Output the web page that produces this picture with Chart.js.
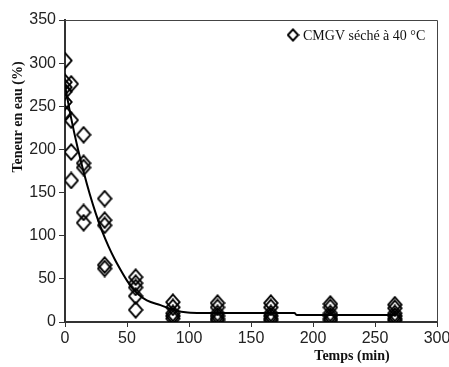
<!DOCTYPE html>
<html>
<head>
<meta charset="utf-8">
<script src="https://cdn.jsdelivr.net/npm/chart.js@4/dist/chart.umd.min.js"></script>
<style>
  html, body { margin: 0; padding: 0; background: #fff; }
  #c { display: block; }
</style>
</head>
<body>
<canvas id="c" width="449" height="367"></canvas>
<script>
// Measured moisture content during drying (time in min, moisture in %)
const sampleTimes = [
  0, 0, 0, 0, 0, 0,
  5, 5, 5, 5,
  15, 15, 15, 15, 15,
  32, 32, 32, 32, 32,
  57, 57, 57, 57, 57,
  87, 87, 87, 87, 87,
  123, 123, 123, 123, 123, 123,
  166, 166, 166, 166, 166, 166,
  214, 214, 214, 214, 214, 214,
  266, 266, 266, 266, 266, 266
];
const waterContent = [
  303, 278, 272, 267, 255, 242,
  276, 234, 197, 164,
  217, 184, 179, 127, 115,
  143, 118, 112, 66, 62,
  52, 45, 40, 30, 14,
  23, 17, 10, 7, 4,
  22, 17, 10, 7, 4, 2,
  22, 17, 10, 7, 4, 2,
  21, 17, 10, 7, 4, 2,
  20, 16, 10, 7, 4, 2
];

// Fitted drying curve, read as a polyline
const fitTimes  = [0, 5, 10, 15, 20, 25, 30, 35, 40, 45, 50, 55, 60, 66, 77, 88, 99, 110, 185, 187, 267];
const fitValues = [274, 236, 203, 174, 148, 125, 105, 88, 73, 60, 48, 38, 31, 25, 19.5, 14, 11, 10.5, 10.5, 8, 8];

const xTicks = [0, 50, 100, 150, 200, 250, 300];
const yTicks = [0, 50, 100, 150, 200, 250, 300, 350];

const seriesLabel = 'CMGV séché à 40 °C';
const xTitle = 'Temps (min)';
const yTitle = 'Teneur en eau (%)';

// Hollow diamond marker
function makeDiamond(w, h, lw) {
  const cv = document.createElement('canvas');
  cv.width = w; cv.height = h;
  const g = cv.getContext('2d');
  g.strokeStyle = '#000';
  g.lineWidth = lw;
  g.lineJoin = 'miter';
  g.beginPath();
  g.moveTo(w / 2, lw * 0.7);
  g.lineTo(w - lw * 0.7, h / 2);
  g.lineTo(w / 2, h - lw * 0.7);
  g.lineTo(lw * 0.7, h / 2);
  g.closePath();
  g.stroke();
  return cv;
}
const diamond = makeDiamond(16, 18, 1.9);
const legendDiamond = makeDiamond(13, 14, 2);

const serif = '"Liberation Serif", "Times New Roman", serif';
const sans = '"Liberation Sans", Arial, sans-serif';

// Frame, axis titles and legend drawn on top of the chart
const decorations = {
  id: 'decorations',
  afterDraw(chart) {
    const { ctx, chartArea: a } = chart;
    ctx.save();
    // right and top edges of the plot box
    ctx.strokeStyle = '#444';
    ctx.lineWidth = 1;
    ctx.beginPath();
    ctx.moveTo(a.left, a.top + 0.5);
    ctx.lineTo(a.right + 0.5, a.top + 0.5);
    ctx.lineTo(a.right + 0.5, a.bottom);
    ctx.stroke();

    // axis titles
    ctx.fillStyle = '#111';
    ctx.font = 'bold 14px ' + serif;
    ctx.textAlign = 'center';
    ctx.textBaseline = 'middle';
    ctx.fillText(xTitle, 352, 356);
    ctx.translate(18, 117);
    ctx.rotate(-Math.PI / 2);
    ctx.fillText(yTitle, 0, 0);
    ctx.setTransform(1, 0, 0, 1, 0, 0);

    // legend
    const label = chart.data.datasets[0].label;
    ctx.drawImage(legendDiamond, 293 - legendDiamond.width / 2, 35 - legendDiamond.height / 2);
    ctx.font = '14px ' + serif;
    ctx.textAlign = 'left';
    ctx.textBaseline = 'middle';
    ctx.fillStyle = '#111';
    ctx.fillText(label, 303, 36);
    ctx.restore();
  }
};

new Chart(document.getElementById('c'), {
  type: 'scatter',
  data: {
    datasets: [
      {
        label: seriesLabel,
        data: sampleTimes.map((t, i) => ({ x: t, y: waterContent[i] })),
        pointStyle: diamond,
        pointRadius: 8,
        pointHoverRadius: 8,
        order: 2
      },
      {
        label: 'fit',
        type: 'line',
        data: fitTimes.map((t, i) => ({ x: t, y: fitValues[i] })),
        borderColor: '#000',
        borderWidth: 2,
        pointRadius: 0,
        cubicInterpolationMode: 'monotone',
        fill: false,
        order: 1
      }
    ]
  },
  options: {
    responsive: false,
    animation: false,
    devicePixelRatio: 1,
    layout: { padding: { left: 0, top: 20, right: 12, bottom: 0 } },
    plugins: {
      legend: { display: false },
      tooltip: { enabled: false }
    },
    scales: {
      x: {
        type: 'linear',
        min: 0, max: 300,
        afterFit(s) { s.height = 45; s.paddingLeft = 0; s.paddingRight = 0; },
        afterBuildTicks(s) { s.ticks = xTicks.map(v => ({ value: v })); },
        border: { display: true, color: '#333', width: 2 },
        grid: { display: true, drawOnChartArea: false, drawTicks: true, tickLength: 5, color: '#333', lineWidth: 1 },
        ticks: { color: '#222', font: { family: sans, size: 16 }, padding: 2, maxRotation: 0 }
      },
      y: {
        min: 0, max: 350,
        afterFit(s) { s.width = 65; s.paddingTop = 0; s.paddingBottom = 0; },
        afterBuildTicks(s) { s.ticks = yTicks.map(v => ({ value: v })); },
        border: { display: true, color: '#333', width: 2 },
        grid: { display: true, drawOnChartArea: false, drawTicks: true, tickLength: 6, color: '#333', lineWidth: 1 },
        ticks: { color: '#222', font: { family: sans, size: 16 }, padding: 3 }
      }
    }
  },
  plugins: [decorations]
});
</script>
</body>
</html>
